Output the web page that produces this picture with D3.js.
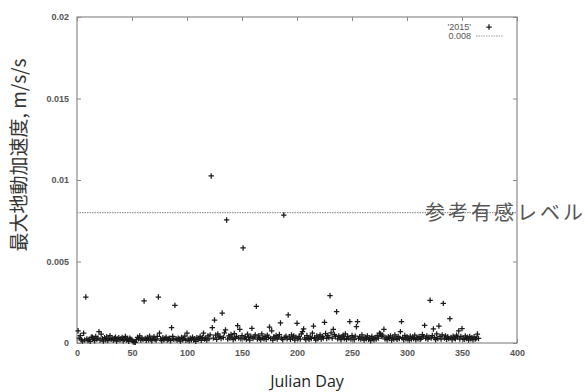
<!DOCTYPE html>
<html>
<head>
<meta charset="utf-8">
<script src="https://cdn.jsdelivr.net/npm/d3@7"></script>
<style>
  body { margin: 0; background: #fff; }
  svg { display: block; }
</style>
</head>
<body>
<div id="chart"></div>
<script>
// peak ground acceleration per Julian day of 2015 (m/s/s), day 1 .. 365
const pga = [
  0.00075, 0.00030, 0.00045, 0.00020, 0.00012, 0.00060, 0.00018, 0.00282, 0.00025, 0.00015,
  0.00022, 0.00010, 0.00035, 0.00035, 0.00028, 0.00014, 0.00040, 0.00024, 0.00030, 0.00070,
  0.00018, 0.00055, 0.00026, 0.00012, 0.00033, 0.00020, 0.00038, 0.00015, 0.00027, 0.00045,
  0.00022, 0.00030, 0.00016, 0.00028, 0.00036, 0.00012, 0.00024, 0.00032, 0.00019, 0.00026,
  0.00034, 0.00014, 0.00022, 0.00040, 0.00018, 0.00028, 0.00010, 0.00030, 0.00024, 0.00016,
  0.00008, 0.00005, 0.00004, 0.00020, 0.00035, 0.00026, 0.00044, 0.00018, 0.00030, 0.00022,
  0.00258, 0.00028, 0.00016, 0.00034, 0.00020, 0.00042, 0.00024, 0.00014, 0.00030, 0.00038,
  0.00022, 0.00018, 0.00040, 0.00282, 0.00060, 0.00026, 0.00014, 0.00032, 0.00020, 0.00028,
  0.00036, 0.00018, 0.00024, 0.00030, 0.00014, 0.00094, 0.00040, 0.00022, 0.00231, 0.00026,
  0.00018, 0.00030, 0.00024, 0.00012, 0.00034, 0.00020, 0.00028, 0.00042, 0.00016, 0.00060,
  0.00024, 0.00014, 0.00030, 0.00020, 0.00036, 0.00018, 0.00026, 0.00010, 0.00032, 0.00022,
  0.00028, 0.00040, 0.00016, 0.00034, 0.00060, 0.00024, 0.00030, 0.00018, 0.00044, 0.00026,
  0.00050, 0.01025, 0.00094, 0.00030, 0.00141, 0.00048, 0.00022, 0.00056, 0.00036, 0.00040,
  0.00028, 0.00184, 0.00034, 0.00062, 0.00080, 0.00755, 0.00024, 0.00044, 0.00030, 0.00052,
  0.00036, 0.00020, 0.00058, 0.00028, 0.00040, 0.00106, 0.00032, 0.00084, 0.00026, 0.00046,
  0.00583, 0.00030, 0.00038, 0.00022, 0.00054, 0.00034, 0.00018, 0.00042, 0.00090, 0.00028,
  0.00036, 0.00050, 0.00225, 0.00024, 0.00044, 0.00030, 0.00020, 0.00056, 0.00032, 0.00026,
  0.00040, 0.00022, 0.00048, 0.00034, 0.00098, 0.00028, 0.00075, 0.00018, 0.00038, 0.00030,
  0.00046, 0.00024, 0.00036, 0.00052, 0.00123, 0.00030, 0.00020, 0.00785, 0.00034, 0.00042,
  0.00026, 0.00172, 0.00038, 0.00022, 0.00050, 0.00030, 0.00044, 0.00018, 0.00036, 0.00121,
  0.00028, 0.00040, 0.00024, 0.00056, 0.00070, 0.00086, 0.00032, 0.00020, 0.00046, 0.00030,
  0.00022, 0.00038, 0.00028, 0.00060, 0.00104, 0.00034, 0.00018, 0.00044, 0.00026, 0.00036,
  0.00050, 0.00024, 0.00040, 0.00030, 0.00127, 0.00058, 0.00028, 0.00046, 0.00034, 0.00290,
  0.00062, 0.00030, 0.00084, 0.00052, 0.00040, 0.00192, 0.00026, 0.00044, 0.00034, 0.00020,
  0.00038, 0.00048, 0.00028, 0.00056, 0.00022, 0.00040, 0.00030, 0.00131, 0.00024, 0.00046,
  0.00034, 0.00020, 0.00042, 0.00100, 0.00131, 0.00028, 0.00038, 0.00024, 0.00050, 0.00030,
  0.00018, 0.00036, 0.00026, 0.00044, 0.00022, 0.00032, 0.00014, 0.00040, 0.00028, 0.00020,
  0.00034, 0.00024, 0.00046, 0.00030, 0.00060, 0.00056, 0.00040, 0.00048, 0.00084, 0.00026,
  0.00032, 0.00020, 0.00038, 0.00028, 0.00044, 0.00018, 0.00036, 0.00024, 0.00050, 0.00030,
  0.00022, 0.00040, 0.00028, 0.00070, 0.00131, 0.00034, 0.00020, 0.00046, 0.00026, 0.00038,
  0.00030, 0.00018, 0.00042, 0.00024, 0.00036, 0.00028, 0.00048, 0.00020, 0.00034, 0.00026,
  0.00040, 0.00022, 0.00030, 0.00052, 0.00038, 0.00108, 0.00028, 0.00044, 0.00024, 0.00036,
  0.00262, 0.00030, 0.00046, 0.00086, 0.00034, 0.00020, 0.00056, 0.00028, 0.00104, 0.00040,
  0.00024, 0.00050, 0.00243, 0.00030, 0.00044, 0.00022, 0.00038, 0.00028, 0.00149, 0.00034,
  0.00020, 0.00042, 0.00030, 0.00026, 0.00048, 0.00036, 0.00074, 0.00024, 0.00040, 0.00088,
  0.00030, 0.00022, 0.00044, 0.00028, 0.00036, 0.00018, 0.00040, 0.00026, 0.00032, 0.00020,
  0.00038, 0.00024, 0.00030, 0.00055, 0.00028
];
const firstDay = 1;
const threshold = 0.008;

const xTicks = [0, 50, 100, 150, 200, 250, 300, 350, 400];
const yTicks = [0, 0.005, 0.01, 0.015, 0.02];
const yTickLabels = ["0", "0.005", "0.01", "0.015", "0.02"];

const seriesName = "'2015'";
const thresholdName = "0.008";
const xTitle = "Julian Day";
const yTitle = "最大地動加速度, m/s/s";
const refLabel = "参考有感レベル";

const W = 585, H = 392;
const margin = { top: 17, right: 68, bottom: 49, left: 77 };
const width = W - margin.left - margin.right,
  height = H - margin.top - margin.bottom;

const svg = d3.select("#chart").append("svg")
  .attr("width", W)
  .attr("height", H);

const g = svg.append("g")
  .attr("transform", "translate(" + margin.left + "," + margin.top + ")");

const x = d3.scaleLinear().domain([0, 400]).range([0, width]);
const y = d3.scaleLinear().domain([0, 0.02]).range([height, 0]);

const frameColor = "#8a8a8a";
const tickFont = "'Liberation Sans', Arial, sans-serif";

// gnuplot style: ticks inward on all four sides
const styleAxis = (sel) => {
  sel.select(".domain").remove();
  sel.selectAll(".tick line").attr("stroke", frameColor).attr("stroke-width", 1);
  sel.selectAll(".tick text")
    .attr("fill", "#555")
    .style("font-family", tickFont)
    .style("font-size", "9px")
    .style("font-weight", "bold");
};

g.append("g")
  .attr("transform", "translate(0," + height + ")")
  .call(d3.axisBottom(x).tickValues(xTicks).tickSize(-4).tickPadding(7))
  .call(styleAxis);

g.append("g")
  .call(d3.axisTop(x).tickValues(xTicks).tickSize(-4).tickFormat(""))
  .call(styleAxis);

g.append("g")
  .call(d3.axisLeft(y).tickValues(yTicks).tickSize(-4).tickPadding(8)
    .tickFormat((d, i) => yTickLabels[i]))
  .call(styleAxis);

g.append("g")
  .attr("transform", "translate(" + width + ",0)")
  .call(d3.axisRight(y).tickValues(yTicks).tickSize(-4).tickFormat(""))
  .call(styleAxis);

g.append("rect")
  .attr("x", 0).attr("y", 0)
  .attr("width", width).attr("height", height)
  .attr("fill", "none")
  .attr("stroke", frameColor)
  .attr("stroke-width", 1.2);

// threshold line
g.append("line")
  .attr("x1", x(0)).attr("x2", x(400))
  .attr("y1", y(threshold)).attr("y2", y(threshold))
  .attr("stroke", "#999")
  .attr("stroke-width", 1.2)
  .attr("stroke-dasharray", "1.5,1");

// points
const armLen = 2.7;
const plusPath = "M" + (-armLen) + ",0H" + armLen + "M0," + (-armLen) + "V" + armLen;
g.append("g")
  .selectAll("path")
  .data(pga)
  .join("path")
  .attr("transform", (d, i) => "translate(" + x(i + firstDay) + "," + y(d) + ")")
  .attr("d", plusPath)
  .attr("stroke", "#1a1a1a")
  .attr("stroke-width", 1.25)
  .attr("fill", "none");

// legend
const legend = g.append("g").attr("transform", "translate(" + (width - 46) + ",0)");
legend.append("text")
  .attr("x", 0).attr("y", 13)
  .attr("text-anchor", "end")
  .attr("fill", "#555")
  .style("font-family", tickFont)
  .style("font-size", "9px")
  .text(seriesName);
legend.append("path")
  .attr("transform", "translate(18,10)")
  .attr("d", plusPath)
  .attr("stroke", "#1a1a1a")
  .attr("stroke-width", 1.25);
legend.append("text")
  .attr("x", 0).attr("y", 22)
  .attr("text-anchor", "end")
  .attr("fill", "#555")
  .style("font-family", tickFont)
  .style("font-size", "9px")
  .text(thresholdName);
legend.append("line")
  .attr("x1", 5).attr("x2", 32)
  .attr("y1", 19).attr("y2", 19)
  .attr("stroke", "#999")
  .attr("stroke-width", 1.2)
  .attr("stroke-dasharray", "1.5,1");

// reference level label
svg.append("text")
  .attr("x", 425)
  .attr("y", 220)
  .attr("fill", "#555")
  .style("font-family", "'Noto Sans CJK JP', sans-serif")
  .style("font-size", "20px")
  .attr("textLength", 158)
  .text(refLabel);

// axis titles
svg.append("text")
  .attr("x", margin.left + width / 2 + 10)
  .attr("y", 387)
  .attr("text-anchor", "middle")
  .attr("fill", "#222")
  .style("font-family", "'Open Sans', sans-serif")
  .style("font-size", "16px")
  .text(xTitle);

svg.append("text")
  .attr("transform", "translate(26,155) rotate(-90)")
  .attr("text-anchor", "middle")
  .attr("fill", "#333")
  .style("font-family", "'Noto Sans CJK JP', sans-serif")
  .style("font-size", "19px")
  .text(yTitle);
</script>
</body>
</html>
